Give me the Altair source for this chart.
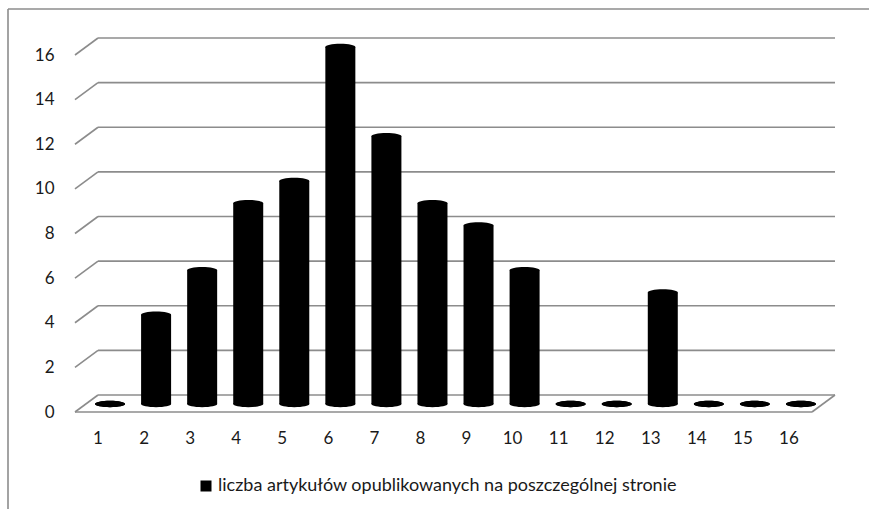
import altair as alt
import pandas as pd

# Number of articles published on each page of the issue
pages = [str(i) for i in range(1, 17)]
counts = [0, 4, 6, 9, 10, 16, 12, 9, 8, 6, 0, 0, 5, 0, 0, 0]
series_name = "liczba artykułów opublikowanych na poszczególnej stronie"
y_ticks = [0, 2, 4, 6, 8, 10, 12, 14, 16]

bars = pd.DataFrame({"strona": pages, "liczba": counts, "seria": [series_name] * len(pages)})
grid = pd.DataFrame({"liczba": y_ticks})

W, H = 737, 357          # front plane of the plot
DX, DY = 23, -17         # depth of the pseudo-3D floor / back wall
CX, CY = 12, -8          # cylinders stand half-way into the depth
FONT = "Lato"
GREY = "#8c8c8c"
TEXT = "#1a1a1a"
ELLIPSE = "M -1 0 A 1 0.21 0 1 0 1 0 A 1 0.21 0 1 0 -1 0 Z"

y_scale = alt.Scale(domain=[0, 16], nice=False, zero=True)
y_axis = alt.Axis(title=None, values=y_ticks, ticks=False, domain=False, grid=False,
                  labelPadding=21, labelFontSize=17, labelFont=FONT, labelColor=TEXT)

x_enc = alt.X(
    "strona:O", sort=pages,
    scale=alt.Scale(paddingInner=0, paddingOuter=0),
    axis=alt.Axis(title=None, labelAngle=0, ticks=False, domain=False, grid=False,
                  labelPadding=18, labelFontSize=17, labelFont=FONT, labelColor=TEXT),
)
y_enc = alt.Y("liczba:Q", scale=y_scale, axis=y_axis)

grid_base = alt.Chart(grid)

# gridlines on the back wall
back_wall = grid_base.mark_rule(color=GREY, strokeWidth=1.6, yOffset=DY, y2Offset=DY).encode(
    y=y_enc, y2="liczba:Q",
    x=alt.value(DX), x2=alt.value(W + DX),
)
# slanted lines on the left side wall
side_wall = grid_base.mark_rule(color=GREY, strokeWidth=1.6, y2Offset=DY).encode(
    y=y_enc, y2="liczba:Q",
    x=alt.value(0), x2=alt.value(DX),
)
# front and right edges of the floor
floor_front = grid_base.mark_rule(color=GREY, strokeWidth=1.6).encode(
    y=y_enc, x=alt.value(0), x2=alt.value(W),
).transform_filter("datum.liczba == 0")
floor_right = grid_base.mark_rule(color=GREY, strokeWidth=1.6, y2Offset=DY).encode(
    y=y_enc, y2="liczba:Q",
    x=alt.value(W), x2=alt.value(W + DX),
).transform_filter("datum.liczba == 0")

# chart frame (left and top edges)
frame_src = alt.Chart(pd.DataFrame({"k": [0]}))
frame_left = frame_src.mark_rule(color=GREY, strokeWidth=1.6).encode(
    x=alt.value(-67), y=alt.value(-46), y2=alt.value(470),
)
frame_top = frame_src.mark_rule(color=GREY, strokeWidth=1.6).encode(
    x=alt.value(-67), x2=alt.value(820), y=alt.value(-46),
)

base = alt.Chart(bars)

# cylinder bodies
body = base.mark_bar(width=30, xOffset=CX, yOffset=CY, y2Offset=CY).encode(
    x=x_enc,
    y=y_enc,
    color=alt.Color(
        "seria:N", scale=alt.Scale(range=["black"]),
        legend=alt.Legend(
            title=None, orient="none", legendX=122, legendY=422, padding=0,
            symbolType="square", symbolSize=121, symbolStrokeWidth=0,
            labelFontSize=18, labelFont=FONT, labelColor=TEXT, labelOffset=3,
            labelLimit=0,
        ),
    ),
)
# elliptical caps at top and bottom of each cylinder
top_cap = base.mark_point(shape=ELLIPSE, size=900, filled=True, opacity=1, color="black",
                          strokeWidth=0, xOffset=CX, yOffset=CY).encode(
    x=x_enc, y=y_enc,
)
bottom_cap = base.mark_point(shape=ELLIPSE, size=900, filled=True, opacity=1, color="black",
                             strokeWidth=0, xOffset=CX, yOffset=CY).encode(
    x=x_enc, y=alt.datum(0, scale=y_scale),
)

chart = alt.layer(
    frame_left, frame_top, back_wall, side_wall, floor_front, floor_right,
    body, bottom_cap, top_cap,
).properties(
    width=W, height=H,
    autosize=alt.AutoSizeParams(type="none"),
    padding={"left": 75, "top": 55, "right": 57, "bottom": 97},
    background="white",
).configure_view(strokeWidth=0)

chart.save("out.html", embed_options={"renderer": "svg", "actions": False})
